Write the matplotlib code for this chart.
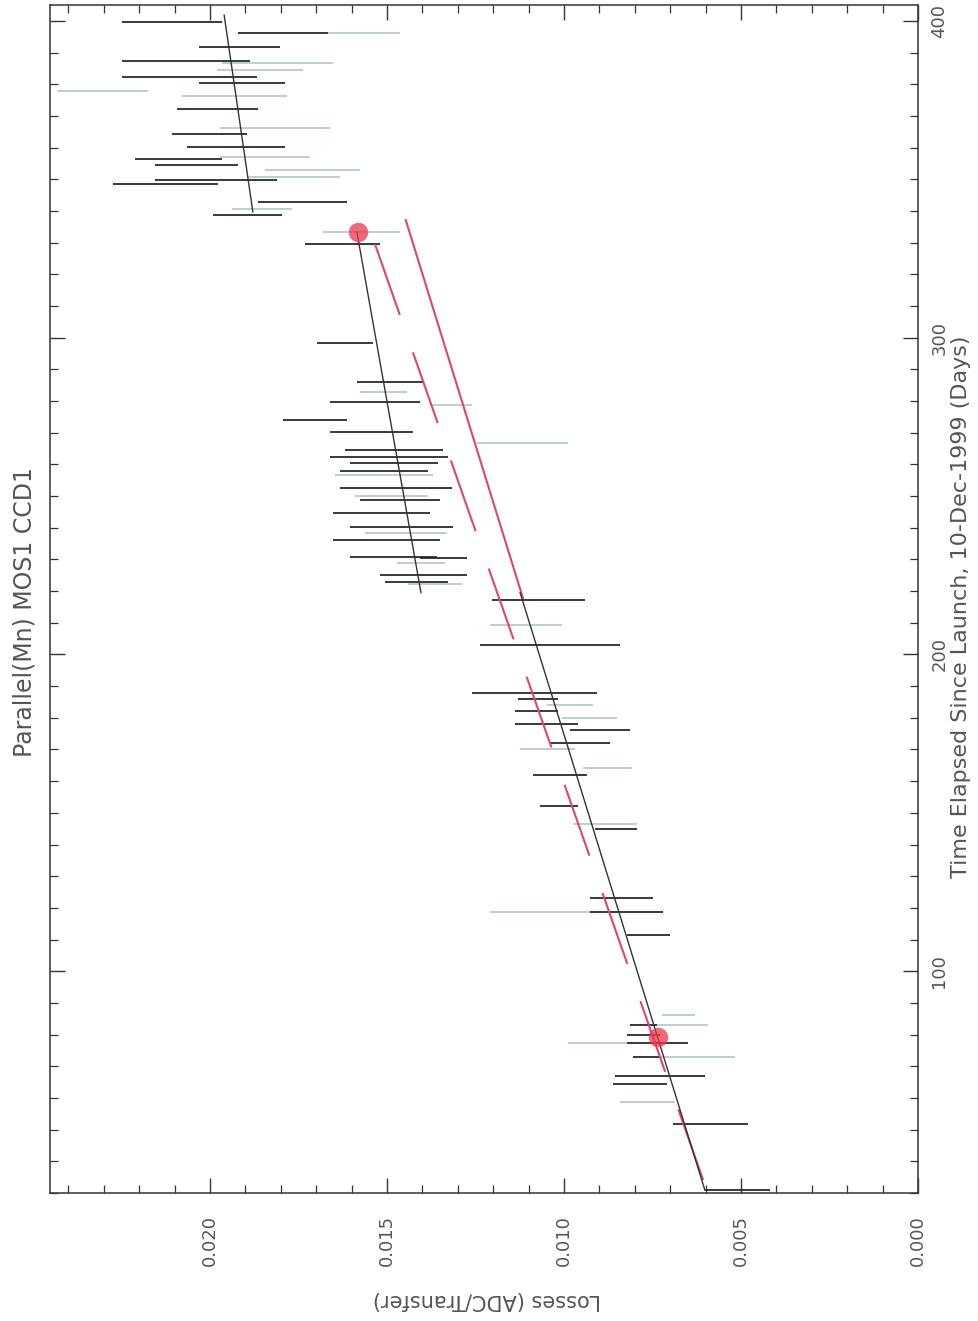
import numpy as np
import matplotlib
matplotlib.use("Agg")
import matplotlib.pyplot as plt
from matplotlib.ticker import MultipleLocator, FormatStrFormatter

# Losses are in units of 1e-3 ADC/transfer, time in days since launch
black_t = [399.6, 396.2, 391.7, 387.3, 382.3, 380.4, 372.2, 364.3, 360.2, 356.4,
           354.5, 349.8, 348.5, 342.8, 338.7, 329.6, 298.3, 286.0, 279.7, 274.0,
           270.2, 264.5, 262.3, 260.4, 257.9, 252.5, 248.7, 244.6, 240.2, 236.2,
           230.8, 230.5, 225.1, 222.9, 217.2, 203.0, 187.8, 185.9, 182.1, 178.0,
           176.1, 172.0, 161.9, 152.2, 144.9, 123.1, 118.7, 111.4, 83.0, 79.9,
           77.3, 72.9, 66.9, 64.4, 51.8, 30.9]
black_lo = [19.66, 16.67, 18.02, 18.87, 18.67, 17.88, 18.64, 18.95, 17.88, 19.66,
            19.21, 18.11, 19.77, 16.13, 17.97, 15.20, 15.40, 13.98, 14.07, 16.13,
            14.27, 13.42, 13.28, 13.56, 13.84, 13.16, 13.50, 13.79, 13.14, 13.50,
            13.59, 12.74, 12.74, 13.28, 9.41, 8.42, 9.07, 10.17, 10.17, 9.60,
            8.14, 8.70, 9.35, 9.60, 7.94, 7.49, 7.20, 7.01, 7.37, 7.29,
            6.50, 7.29, 6.02, 7.09, 4.80, 4.18]
black_hi = [22.49, 19.21, 20.31, 22.49, 22.49, 20.31, 20.93, 21.07, 20.65, 22.12,
            21.55, 21.55, 22.74, 18.64, 19.92, 17.32, 16.98, 15.85, 16.61, 17.94,
            16.61, 16.19, 16.61, 16.05, 16.33, 16.33, 15.76, 16.53, 16.05, 16.53,
            16.05, 14.07, 15.20, 15.06, 12.03, 12.37, 12.60, 11.30, 11.38, 11.38,
            9.83, 10.40, 10.88, 10.68, 9.12, 9.27, 9.27, 8.22, 8.14, 8.22,
            8.22, 8.05, 8.56, 8.62, 6.92, 6.02]

grey_t = [396.2, 386.7, 384.5, 377.9, 376.3, 366.2, 357.0, 352.9, 350.7, 340.6,
          333.3, 282.8, 278.7, 266.7, 256.6, 250.0, 238.3, 228.9, 222.2, 209.3,
          184.0, 179.9, 170.1, 164.2, 146.5, 118.7, 86.2, 83.0, 77.3, 72.9, 58.7]
grey_lo = [14.63, 16.53, 17.37, 21.75, 17.82, 16.61, 17.18, 15.76, 16.33, 17.68,
           14.63, 14.44, 12.60, 9.89, 13.70, 13.84, 13.31, 13.36, 12.88, 10.06,
           9.18, 8.50, 9.69, 8.08, 7.94, 9.27, 6.30, 5.93, 8.22, 5.17, 6.86]
grey_hi = [16.67, 19.66, 19.80, 24.32, 20.79, 19.72, 19.72, 18.45, 18.95, 19.38,
           16.81, 15.76, 13.79, 12.46, 16.47, 15.90, 15.62, 14.72, 14.41, 12.09,
           10.48, 10.06, 11.24, 9.46, 9.75, 12.09, 7.23, 7.37, 9.89, 7.29, 8.42]

# piecewise fits (black), single fit (red dashed), extrapolation (red solid)
fit1_t, fit1_l = [30.9, 219.5], [6.02, 11.24]
fit2_t, fit2_l = [219.5, 333.3], [14.04, 15.85]
fit3_t, fit3_l = [339.7, 401.8], [18.79, 19.60]
all_fit_t, all_fit_l = [34.1, 334.0], [6.07, 15.48]
extrap_t, extrap_l = [217.8, 337.1], [11.16, 14.47]
marked_t, marked_l = [333.3, 79.2], [15.82, 7.34]

S = 1e-3
fig = plt.figure(figsize=(9.79, 13.21), dpi=100)
ax = fig.add_axes([50 / 979, 128 / 1321, 868 / 979, 1188 / 1321])

ax.hlines(grey_t, np.array(grey_lo) * S, np.array(grey_hi) * S,
          color="#a8c2c4", lw=1.1, zorder=2)
ax.hlines(black_t, np.array(black_lo) * S, np.array(black_hi) * S,
          color="#2a2a2a", lw=1.3, zorder=3)

red = "#e2456b"
ax.plot(np.array(all_fit_l) * S, all_fit_t, color=red, lw=1.5,
        linestyle=(0, (36, 19)), zorder=4)
ax.plot(np.array(extrap_l) * S, extrap_t, color=red, lw=1.5, zorder=4)
for tt, ll in [(fit1_t, fit1_l), (fit2_t, fit2_l), (fit3_t, fit3_l)]:
    ax.plot(np.array(ll) * S, tt, color="#333333", lw=1.0, zorder=5)
ax.plot(np.array(marked_l) * S, marked_t, "o", ms=14, color="#e8384f",
        alpha=0.75, mec="none", zorder=6)

ax.set_xlim(0.02452, 0)
ax.set_ylim(30, 405)
ax.xaxis.set_major_locator(MultipleLocator(0.005))
ax.xaxis.set_minor_locator(MultipleLocator(0.001))
ax.xaxis.set_major_formatter(FormatStrFormatter("%.3f"))
ax.yaxis.set_major_locator(MultipleLocator(100))
ax.yaxis.set_minor_locator(MultipleLocator(10))

for sp in ax.spines.values():
    sp.set_linewidth(1.1)
    sp.set_color("#333333")

ax.tick_params(which="both", direction="in", top=True, bottom=True,
               left=True, right=True, labelleft=False, labelright=True,
               colors="#333333", labelcolor="#555555")
ax.tick_params(which="major", length=11, width=1.0)
ax.tick_params(which="minor", length=6, width=0.9)
ax.tick_params(axis="x", labelrotation=90, labelsize=13, pad=16)
ax.tick_params(axis="y", labelrotation=90, labelsize=13, pad=9)
for lab in ax.get_yticklabels():
    lab.set_va("center")

fig.text(25 / 979, 1 - 612 / 1321, "Parallel(Mn) MOS1 CCD1", rotation=90,
         ha="center", va="center", fontsize=17, color="#555555")
fig.text(961 / 979, 1 - 607 / 1321,
         "Time Elapsed Since Launch, 10-Dec-1999 (Days)", rotation=90,
         ha="center", va="center", fontsize=16, color="#555555")
fig.text(487 / 979, 1 - 1300 / 1321, "Losses (ADC/Transfer)", rotation=180,
         ha="center", va="center", fontsize=15, color="#555555")

fig.savefig("out.png", dpi=100, facecolor="white")
